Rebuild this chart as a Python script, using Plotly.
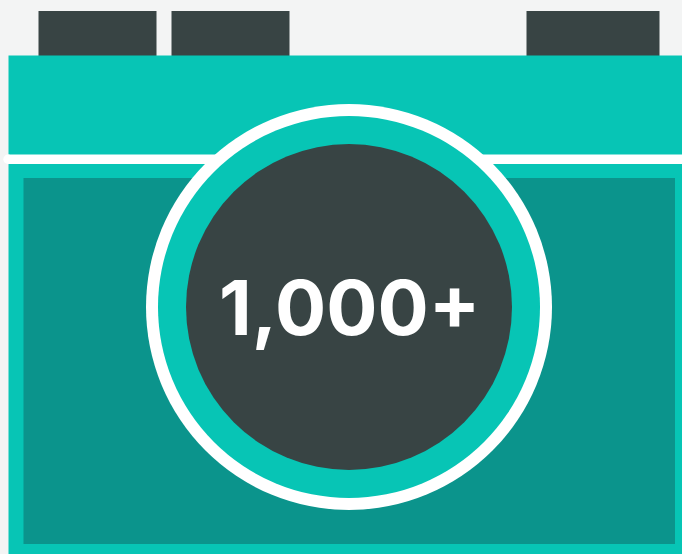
import plotly.graph_objects as go

WIDTH, HEIGHT = 682, 554
label = "1,000+"
BG, DARK, TEAL, DEEP, WHITE = "#f3f4f4", "#384444", "#07c5b5", "#0b948c", "#ffffff"

tab_left = [38.5, 171.5, 526.5]
tab_right = [156.5, 289.5, 659.5]
tab_top, tab_bottom = 11, 56

body = (8.5, 55.5, 690, 560)
panel = (23.5, 178, 675, 544)
strip = (8, 154.5, 690, 164)
strip_end_x, strip_end_y, strip_end_r = 8, 159.2, 4.7
cx, cy = 349, 307
ring_radii = [203, 191, 163]
ring_colors = [WHITE, TEAL, DARK]


def rect(x0, y0, x1, y1, color):
    return dict(type="rect", xref="x", yref="y", x0=x0, y0=y0, x1=x1, y1=y1,
                fillcolor=color, line_width=0, layer="above")


def circle(x, y, r, color):
    return dict(type="circle", xref="x", yref="y", x0=x - r, y0=y - r, x1=x + r, y1=y + r,
                fillcolor=color, line_width=0, layer="above")


shapes = [rect(l, tab_top, r, tab_bottom, DARK) for l, r in zip(tab_left, tab_right)]
shapes += [rect(*body, TEAL), rect(*panel, DEEP), rect(*strip, WHITE),
           circle(strip_end_x, strip_end_y, strip_end_r, WHITE)]
shapes += [circle(cx, cy, r, c) for r, c in zip(ring_radii, ring_colors)]

fig = go.Figure()
fig.update_layout(
    width=WIDTH, height=HEIGHT,
    margin=dict(l=0, r=0, t=0, b=0),
    paper_bgcolor=BG, plot_bgcolor=BG,
    showlegend=False,
    xaxis=dict(range=[0, WIDTH], visible=False, fixedrange=True),
    yaxis=dict(range=[HEIGHT, 0], visible=False, fixedrange=True),
    shapes=shapes,
    annotations=[dict(x=cx, y=cy, xref="x", yref="y", text=label, showarrow=False,
                      xanchor="center", yanchor="middle",
                      font=dict(family="Inter", size=76, color=WHITE, weight=700))],
)
fig.write_html(
    "out.html",
    config=dict(displayModeBar=False),
    post_script="document.body.style.margin='0';document.body.style.overflow='hidden';document.body.style.background='%s';" % BG,
)
